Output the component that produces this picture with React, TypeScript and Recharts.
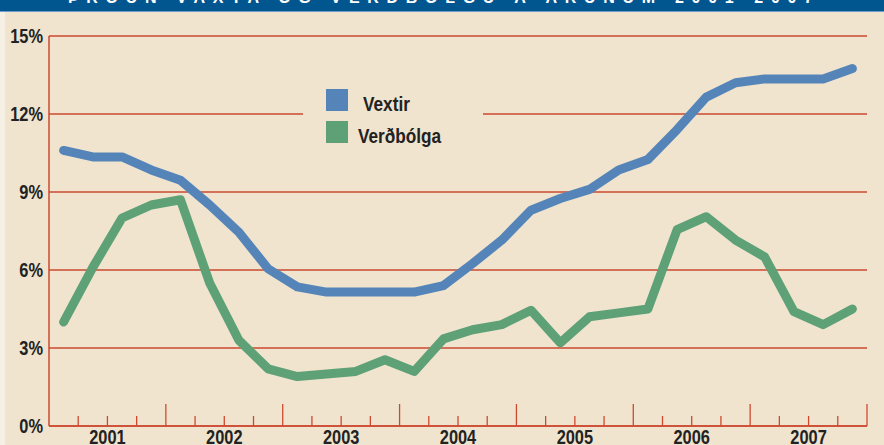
import { LineChart, Line, XAxis, YAxis, CartesianGrid, Legend } from "recharts";

const years = ["2001", "2002", "2003", "2004", "2005", "2006", "2007"];
const seriesNames = ["Vextir", "Verðbólga"];

// quarterly values, %
const vextir = [
  10.6, 10.35, 10.35, 9.85, 9.45, 8.5, 7.45, 6.05, 5.35, 5.15, 5.15, 5.15, 5.15, 5.4,
  6.25, 7.15, 8.3, 8.75, 9.1, 9.85, 10.25, 11.4, 12.65, 13.2, 13.35, 13.35, 13.35, 13.75,
];
const verdbolga = [
  4.0, 6.1, 8.0, 8.5, 8.7, 5.5, 3.3, 2.2, 1.9, 2.0, 2.1, 2.55, 2.1, 3.35,
  3.7, 3.9, 4.45, 3.2, 4.2, 4.35, 4.5, 7.55, 8.05, 7.15, 6.5, 4.4, 3.9, 4.5,
];

const yTicks = [0, 3, 6, 9, 12, 15];
const title = "ÞRÓUN VAXTA OG VERÐBÓLGU Á ÁRUNUM 2001-2007";

// x = quarter index, point drawn mid-quarter
const data = vextir.map((v, i) => ({ t: i + 0.5, vextir: v, verdbolga: verdbolga[i] }));
const quarterTicks = Array.from({ length: years.length * 4 }, (_, i) => i + 1);

const BG = "#f0e4cf";
const RED = "#cc4a30";
const FONT = "'Liberation Sans', Arial, sans-serif";

// condensed bold text (narrow face not installed, so squeeze Liberation Sans)
const NarrowText = ({ x, y, anchor = "start", size = 20, dy, children }: any) => (
  <text
    transform={`translate(${x},${y}) scale(0.82,1)`}
    x={0}
    y={0}
    dy={dy}
    textAnchor={anchor}
    fill="#222"
    fontSize={size}
    fontWeight={700}
    fontFamily={FONT}
  >
    {children}
  </text>
);

const QuarterTick = (props: any) => {
  const { x, y, payload } = props;
  const q = payload.value;
  const big = q % 4 === 0;
  const label = q % 4 === 2 ? years[(q - 2) / 4] : null;
  return (
    <g>
      <line x1={x} x2={x} y1={y} y2={y - (big ? 22 : 10)} stroke={RED} strokeWidth={1.3} />
      {label && (
        <NarrowText x={x} y={y + 18} anchor="middle">
          {label}
        </NarrowText>
      )}
    </g>
  );
};

const PercentTick = (props: any) => {
  const { x, y, payload } = props;
  return (
    <NarrowText x={x} y={y} anchor="end" dy="0.355em">
      {`${payload.value}%`}
    </NarrowText>
  );
};

const LegendBox = (props: any) => {
  const items = [...(props.payload || [])].sort(
    (a: any, b: any) => seriesNames.indexOf(a.value) - seriesNames.indexOf(b.value)
  );
  return (
    <svg width={180} height={64} style={{ display: "block", background: BG }}>
      {items.map((p: any, i: number) => (
        <g key={p.value}>
          <rect x={23} y={5 + i * 32} width={22} height={22} fill={p.color} />
          <NarrowText x={i === 0 ? 60 : 55} y={27 + i * 32} size={21}>
            {p.value}
          </NarrowText>
        </g>
      ))}
    </svg>
  );
};

export default function App() {
  return (
    <div style={{ position: "absolute", left: 0, top: 0, width: 884, height: 445, background: BG, overflow: "hidden", fontFamily: FONT }}>
      <div style={{ position: "absolute", left: 0, top: 0, width: 5, height: 445, background: "#f6efe3" }} />
      <div style={{ position: "absolute", left: 0, top: 0, width: 884, height: 11, background: "#02568f", borderBottom: "1px solid #6f9cc4" }}>
        <svg width={884} height={11} style={{ display: "block" }}>
          <text x={68} y={3} textLength={745} lengthAdjust="spacing" fill="#fff" fontSize={16} fontWeight={700} fontFamily={FONT}>
            {title}
          </text>
        </svg>
      </div>
      <LineChart
        width={884}
        height={445}
        data={data}
        margin={{ top: 36, right: 17, bottom: 0, left: 0 }}
        style={{ position: "absolute", left: 0, top: 0 }}
      >
        <CartesianGrid vertical={false} stroke={RED} strokeWidth={1.5} />
        <XAxis
          dataKey="t"
          type="number"
          domain={[0, 28]}
          ticks={quarterTicks}
          interval={0}
          height={19}
          tickSize={0}
          tickMargin={0}
          tickLine={false}
          axisLine={{ stroke: RED, strokeWidth: 1.5 }}
          tick={<QuarterTick />}
        />
        <YAxis
          type="number"
          domain={[0, 15]}
          ticks={yTicks}
          width={49}
          tickSize={0}
          tickMargin={6}
          tickLine={false}
          axisLine={{ stroke: RED, strokeWidth: 1.5 }}
          tick={<PercentTick />}
        />
        <Legend
          layout="vertical"
          align="center"
          verticalAlign="middle"
          content={<LegendBox />}
          wrapperStyle={{ left: 303, top: 84, width: 180, height: 64 }}
        />
        <Line
          type="linear"
          dataKey="vextir"
          name="Vextir"
          stroke="#5585b8"
          strokeWidth={9}
          strokeLinecap="round"
          strokeLinejoin="round"
          dot={false}
          activeDot={false}
          isAnimationActive={false}
        />
        <Line
          type="linear"
          dataKey="verdbolga"
          name="Verðbólga"
          stroke="#5ea176"
          strokeWidth={9}
          strokeLinecap="round"
          strokeLinejoin="round"
          dot={false}
          activeDot={false}
          isAnimationActive={false}
        />
      </LineChart>
    </div>
  );
}
